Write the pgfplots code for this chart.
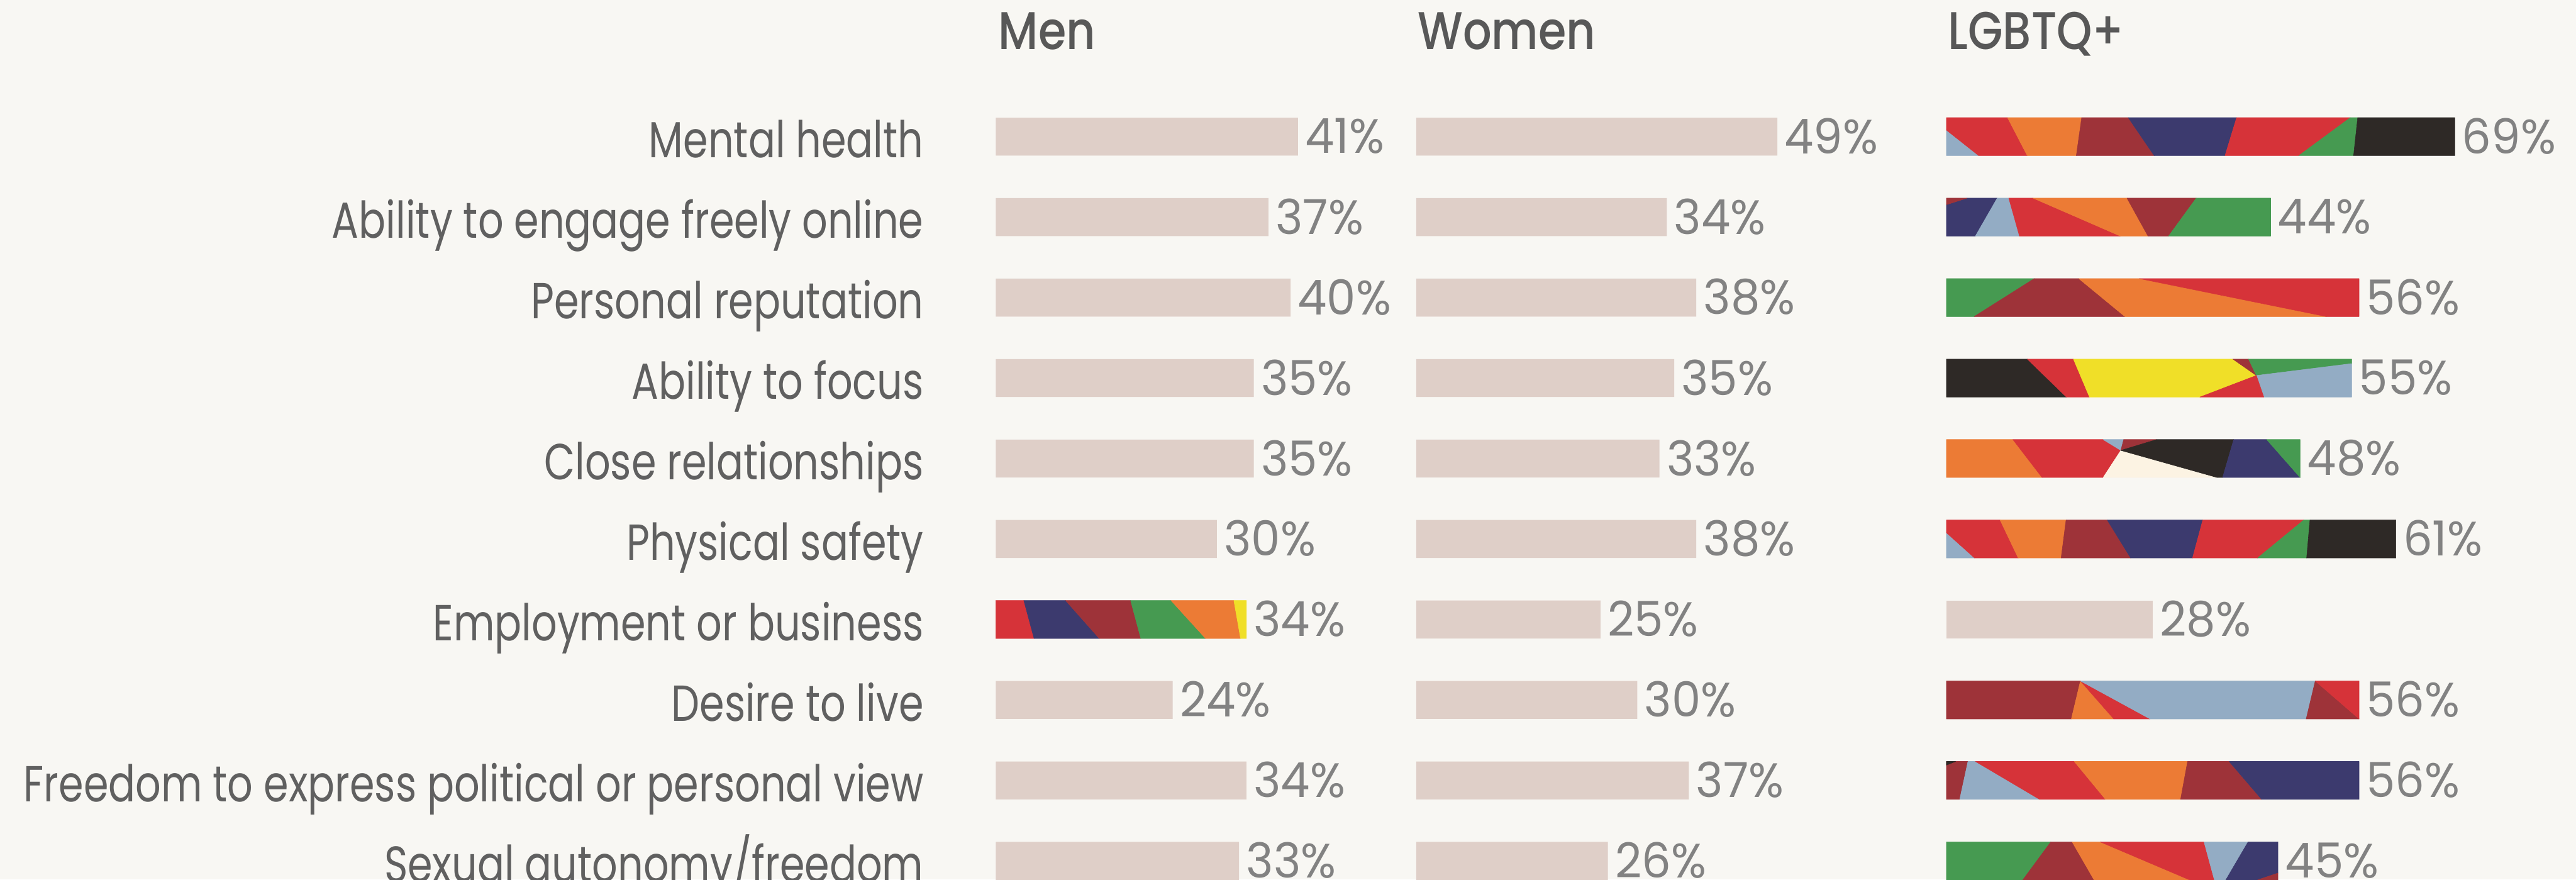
\documentclass[border=0pt]{standalone}
\usepackage{pgfplots}
\pgfplotsset{compat=1.18}
\usepackage{fontspec}
\setmainfont{Poppins}[FakeStretch=0.79]
\newfontfamily\pctfont{Poppins}[FakeStretch=0.96]
\IfFontExistsTF{Poppins Medium}{%
  \newfontfamily\titlefont{Poppins Medium}[FakeStretch=0.85]
}{%
  \newfontfamily\titlefont{Poppins}[FakeStretch=0.85]
}
\definecolor{bg}{RGB}{248,247,243}
\definecolor{barc}{RGB}{223,207,200}
\definecolor{cR}{RGB}{214,51,57}
\definecolor{cO}{RGB}{236,123,53}
\definecolor{cM}{RGB}{158,51,57}
\definecolor{cN}{RGB}{60,58,110}
\definecolor{cG}{RGB}{70,154,81}
\definecolor{cK}{RGB}{46,41,38}
\definecolor{cL}{RGB}{147,172,196}
\definecolor{cY}{RGB}{240,223,40}
\definecolor{cC}{RGB}{252,243,227}
\definecolor{labc}{RGB}{96,96,96}
\definecolor{titc}{RGB}{88,88,88}
\definecolor{pctc}{RGB}{130,130,130}

\pgfplotsset{
  panel/.style={
    hide axis, clip=false,
    x=3.055pt, y=33.35pt,
    xmin=0, xmax=75, ymin=-10.5, ymax=-0.5,
    anchor=south west,
  },
  plainbar/.style={xbar, bar width=15.75pt, bar shift=0pt, fill=barc, draw=none},
  lab/.style={xbar, bar width=15.75pt, bar shift=0pt, fill=none, draw=none,
    point meta=x,
    nodes near coords={\pgfmathprintnumber[assume math mode=true]{\pgfplotspointmeta}\%},
    every node near coord/.append style={anchor=west, inner sep=0pt, xshift=2.8pt, yshift=0.2pt,
      font=\pctfont\fontsize{20}{22}\selectfont, text=pctc}},
  poly/.style={fill=#1, draw=#1, line width=0.15pt, line join=round},
}

\begin{document}
\begin{tikzpicture}
\fill[bg] (0,0) rectangle (1067.75pt,-364.5pt);

% titles
\node[anchor=base west, inner sep=0pt, text=titc, font=\titlefont\fontsize{22}{24}\selectfont] at (413.75pt,-20.5pt) {Men};
\node[anchor=base west, inner sep=0pt, text=titc, font=\titlefont\fontsize{22}{24}\selectfont] at (587.5pt,-20.5pt) {Women};
\node[anchor=base west, inner sep=0pt, text=titc, font=\titlefont\fontsize{22}{24}\selectfont] at (807.25pt,-20.5pt) {LGBTQ+};

% category labels
\foreach \t [count=\i] in {Mental health, Ability to engage freely online, Personal reputation, Ability to focus, Close relationships, Physical safety, Employment or business, Desire to live, Freedom to express political or personal view, Sexual autonomy/freedom}
  \node[anchor=base east, inner sep=0pt, text=labc, font=\fontsize{21}{23}\selectfont] at ({383pt}, {-65.4pt-(\i-1)*33.35pt}) {\t};

% ---------------- Men ----------------
\begin{axis}[panel, at={(412.75pt,-373.45pt)}]
\addplot[plainbar] coordinates {(41,-1) (37,-2) (40,-3) (35,-4) (35,-5) (30,-6) (24,-8) (34,-9) (33,-10)};
% Employment or business (34%)
\addplot[poly=cR] coordinates {(0,-6.764) (3.8,-6.764) (5.19,-7.236) (0,-7.236)} -- cycle;
\addplot[poly=cN] coordinates {(3.8,-6.764) (9.47,-6.764) (14.04,-7.236) (5.19,-7.236)} -- cycle;
\addplot[poly=cM] coordinates {(9.47,-6.764) (18.29,-6.764) (19.68,-7.236) (14.04,-7.236)} -- cycle;
\addplot[poly=cG] coordinates {(18.29,-6.764) (23.77,-6.764) (28.46,-7.236) (19.68,-7.236)} -- cycle;
\addplot[poly=cO] coordinates {(23.77,-6.764) (32.3,-6.764) (33.21,-7.236) (28.46,-7.236)} -- cycle;
\addplot[poly=cY] coordinates {(32.3,-6.764) (34,-6.764) (34,-7.236) (33.21,-7.236)} -- cycle;
\addplot[lab] coordinates {(41,-1) (37,-2) (40,-3) (35,-4) (35,-5) (30,-6) (34,-7) (24,-8) (34,-9) (33,-10)};
\end{axis}

% ---------------- Women ----------------
\begin{axis}[panel, at={(587pt,-373.45pt)}]
\addplot[plainbar] coordinates {(49,-1) (34,-2) (38,-3) (35,-4) (33,-5) (38,-6) (25,-7) (30,-8) (37,-9) (26,-10)};
\addplot[lab] coordinates {(49,-1) (34,-2) (38,-3) (35,-4) (33,-5) (38,-6) (25,-7) (30,-8) (37,-9) (26,-10)};
\end{axis}

% ---------------- LGBTQ+ ----------------
\begin{axis}[panel, at={(806.75pt,-373.45pt)}]
\addplot[plainbar] coordinates {(28,-7)};
% Row 1: Mental health 69
\addplot[poly=cL] coordinates {(0,-0.918) (0,-1.236) (4.39,-1.236)} -- cycle;
\addplot[poly=cR] coordinates {(0,-0.764) (8.30,-0.764) (10.98,-1.236) (4.39,-1.236) (0,-0.918)} -- cycle;
\addplot[poly=cO] coordinates {(8.30,-0.764) (18.36,-0.764) (17.63,-1.236) (10.98,-1.236)} -- cycle;
\addplot[poly=cM] coordinates {(18.36,-0.764) (24.68,-0.764) (28.20,-1.236) (17.63,-1.236)} -- cycle;
\addplot[poly=cN] coordinates {(24.68,-0.764) (39.38,-0.764) (37.81,-1.236) (28.20,-1.236)} -- cycle;
\addplot[poly=cR] coordinates {(39.38,-0.764) (54.81,-0.764) (47.82,-1.236) (37.81,-1.236)} -- cycle;
\addplot[poly=cG] coordinates {(54.81,-0.764) (55.81,-0.764) (55.25,-1.236) (47.82,-1.236)} -- cycle;
\addplot[poly=cK] coordinates {(55.81,-0.764) (69,-0.764) (69,-1.236) (55.25,-1.236)} -- cycle;
% Row 2: Ability to engage freely online 44
\addplot[poly=cN] coordinates {(0,-1.846) (2.82,-1.764) (6.90,-1.764) (3.94,-2.236) (0,-2.236)} -- cycle;
\addplot[poly=cM] coordinates {(0,-1.764) (2.82,-1.764) (0,-1.846)} -- cycle;
\addplot[poly=cL] coordinates {(6.90,-1.764) (8.47,-1.764) (9.92,-2.236) (3.94,-2.236)} -- cycle;
\addplot[poly=cR] coordinates {(8.47,-1.764) (11.76,-1.764) (23.61,-2.236) (9.92,-2.236)} -- cycle;
\addplot[poly=cO] coordinates {(11.76,-1.764) (24.51,-1.764) (27.36,-2.236) (23.61,-2.236)} -- cycle;
\addplot[poly=cM] coordinates {(24.51,-1.764) (33.9,-1.764) (30.15,-2.236) (27.36,-2.236)} -- cycle;
\addplot[poly=cG] coordinates {(33.9,-1.764) (44,-1.764) (44,-2.236) (30.15,-2.236)} -- cycle;
% Row 3: Personal reputation 56
\addplot[poly=cG] coordinates {(0,-2.764) (11.93,-2.764) (3.77,-3.236) (0,-3.236)} -- cycle;
\addplot[poly=cM] coordinates {(11.93,-2.764) (17.97,-2.764) (24.23,-3.236) (3.77,-3.236)} -- cycle;
\addplot[poly=cO] coordinates {(17.97,-2.764) (26.19,-2.764) (51.56,-3.236) (24.23,-3.236)} -- cycle;
\addplot[poly=cR] coordinates {(26.19,-2.764) (56,-2.764) (56,-3.236) (51.56,-3.236)} -- cycle;
% Row 4: Ability to focus 55
\addplot[poly=cK] coordinates {(0,-3.764) (10.98,-3.764) (16.29,-4.236) (0,-4.236)} -- cycle;
\addplot[poly=cR] coordinates {(10.98,-3.764) (17.24,-3.764) (19.42,-4.236) (16.29,-4.236)} -- cycle;
\addplot[poly=cY] coordinates {(17.24,-3.764) (38.87,-3.764) (42.06,-3.968) (34.40,-4.236) (19.42,-4.236)} -- cycle;
\addplot[poly=cM] coordinates {(38.87,-3.764) (41.0,-3.764) (42.06,-3.968)} -- cycle;
\addplot[poly=cG] coordinates {(41.0,-3.764) (55,-3.764) (55,-3.820) (42.06,-3.968)} -- cycle;
\addplot[poly=cL] coordinates {(42.06,-3.968) (55,-3.820) (55,-4.236) (43.07,-4.236)} -- cycle;
\addplot[poly=cR] coordinates {(34.40,-4.236) (42.06,-3.968) (43.07,-4.236)} -- cycle;
% Row 5: Close relationships 48
\addplot[poly=cO] coordinates {(0,-4.764) (9.03,-4.764) (12.99,-5.236) (0,-5.236)} -- cycle;
\addplot[poly=cR] coordinates {(9.03,-4.764) (21.27,-4.764) (23.67,-4.899) (21.27,-5.236) (12.99,-5.236)} -- cycle;
\addplot[poly=cL] coordinates {(21.27,-4.764) (24.06,-4.764) (23.67,-4.899)} -- cycle;
\addplot[poly=cM] coordinates {(24.06,-4.764) (28.53,-4.764) (23.67,-4.899)} -- cycle;
\addplot[poly=cC] coordinates {(23.67,-4.899) (36.75,-5.236) (21.27,-5.236)} -- cycle;
\addplot[poly=cK] coordinates {(23.67,-4.899) (28.53,-4.764) (38.99,-4.764) (37.48,-5.236) (36.75,-5.236)} -- cycle;
\addplot[poly=cN] coordinates {(38.99,-4.764) (43.46,-4.764) (48,-5.236) (37.48,-5.236)} -- cycle;
\addplot[poly=cG] coordinates {(43.46,-4.764) (48,-4.764) (48,-5.236)} -- cycle;
% Row 6: Physical safety 61
\addplot[poly=cL] coordinates {(0,-5.921) (0,-6.236) (3.83,-6.236)} -- cycle;
\addplot[poly=cR] coordinates {(0,-5.764) (7.29,-5.764) (9.75,-6.236) (3.83,-6.236) (0,-5.921)} -- cycle;
\addplot[poly=cO] coordinates {(7.29,-5.764) (16.24,-5.764) (15.57,-6.236) (9.75,-6.236)} -- cycle;
\addplot[poly=cM] coordinates {(16.24,-5.764) (21.83,-5.764) (25.01,-6.236) (15.57,-6.236)} -- cycle;
\addplot[poly=cN] coordinates {(21.83,-5.764) (34.79,-5.764) (33.40,-6.236) (25.01,-6.236)} -- cycle;
\addplot[poly=cR] coordinates {(34.79,-5.764) (48.49,-5.764) (42.23,-6.236) (33.40,-6.236)} -- cycle;
\addplot[poly=cG] coordinates {(48.49,-5.764) (49.33,-5.764) (48.88,-6.236) (42.23,-6.236)} -- cycle;
\addplot[poly=cK] coordinates {(49.33,-5.764) (61,-5.764) (61,-6.236) (48.88,-6.236)} -- cycle;
% Row 8: Desire to live 56
\addplot[poly=cM] coordinates {(0,-7.764) (18.19,-7.764) (16.96,-8.236) (0,-8.236)} -- cycle;
\addplot[poly=cO] coordinates {(18.19,-7.764) (22.72,-8.236) (16.96,-8.236)} -- cycle;
\addplot[poly=cR] coordinates {(18.19,-7.764) (27.64,-8.236) (22.72,-8.236)} -- cycle;
\addplot[poly=cL] coordinates {(18.19,-7.764) (50.05,-7.764) (48.82,-8.236) (27.64,-8.236)} -- cycle;
\addplot[poly=cM] coordinates {(50.05,-7.764) (56,-8.236) (48.82,-8.236)} -- cycle;
\addplot[poly=cR] coordinates {(50.05,-7.764) (56,-7.764) (56,-8.236)} -- cycle;
% Row 9: Freedom to express 56
\addplot[poly=cM] coordinates {(0,-8.764) (2.93,-8.764) (1.81,-9.236) (0,-9.236)} -- cycle;
\addplot[poly=cK] coordinates {(0,-8.764) (1.26,-8.764) (0,-8.81)} -- cycle;
\addplot[poly=cL] coordinates {(2.93,-8.764) (3.94,-8.764) (12.66,-9.236) (1.81,-9.236)} -- cycle;
\addplot[poly=cR] coordinates {(3.94,-8.764) (17.35,-8.764) (21.6,-9.236) (12.66,-9.236)} -- cycle;
\addplot[poly=cO] coordinates {(17.35,-8.764) (32.73,-8.764) (31.78,-9.236) (21.6,-9.236)} -- cycle;
\addplot[poly=cM] coordinates {(32.73,-8.764) (38.37,-8.764) (42.79,-9.236) (31.78,-9.236)} -- cycle;
\addplot[poly=cN] coordinates {(38.37,-8.764) (56,-8.764) (56,-9.236) (42.79,-9.236)} -- cycle;
% Row 10: Sexual autonomy 45
\addplot[poly=cG] coordinates {(0,-9.764) (14.17,-9.764) (10.37,-10.236) (0,-10.236)} -- cycle;
\addplot[poly=cM] coordinates {(14.17,-9.764) (17.07,-9.764) (20.04,-10.236) (10.37,-10.236)} -- cycle;
\addplot[poly=cO] coordinates {(17.07,-9.764) (20.88,-9.764) (33.0,-10.236) (20.04,-10.236)} -- cycle;
\addplot[poly=cR] coordinates {(20.88,-9.764) (34.96,-9.764) (36.36,-10.236) (33.0,-10.236)} -- cycle;
\addplot[poly=cL] coordinates {(34.96,-9.764) (40.94,-9.764) (37.92,-10.236) (36.36,-10.236)} -- cycle;
\addplot[poly=cN] coordinates {(40.94,-9.764) (45,-9.764) (45,-10.151) (42.23,-10.236) (37.92,-10.236)} -- cycle;
\addplot[poly=cM] coordinates {(45,-10.151) (45,-10.236) (42.23,-10.236)} -- cycle;
\addplot[lab] coordinates {(69,-1) (44,-2) (56,-3) (55,-4) (48,-5) (61,-6) (28,-7) (56,-8) (56,-9) (45,-10)};
\end{axis}

\pgfresetboundingbox
\useasboundingbox (0,0) rectangle (1067.75pt,-364.5pt);
\end{tikzpicture}
\end{document}
